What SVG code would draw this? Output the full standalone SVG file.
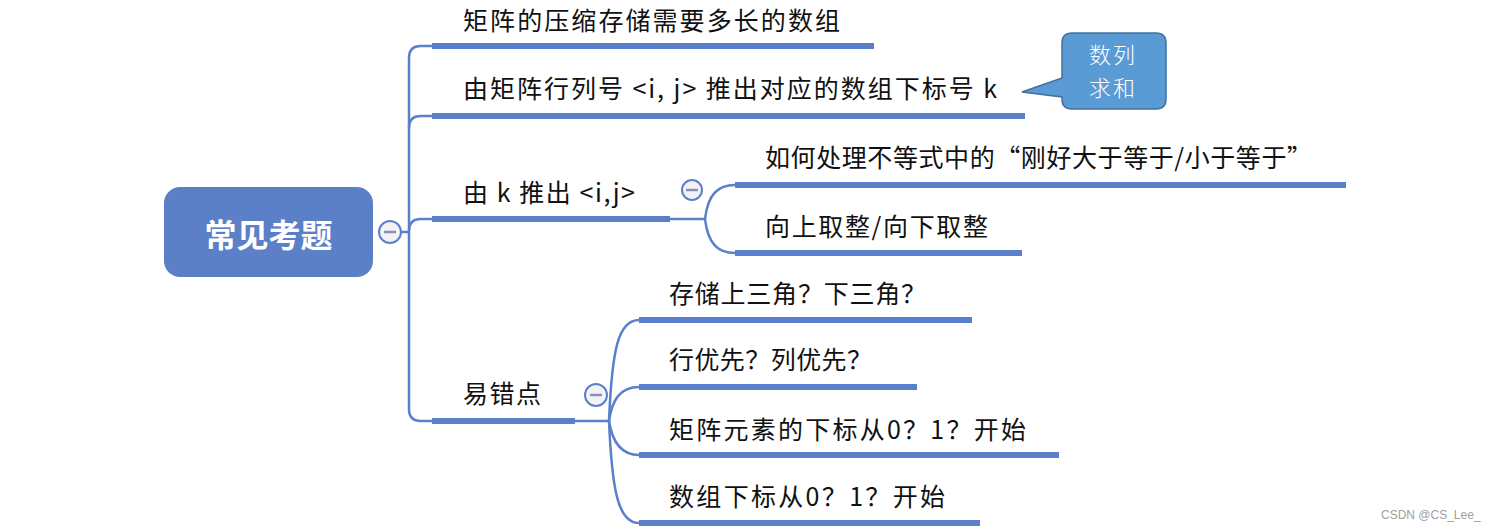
<svg xmlns="http://www.w3.org/2000/svg" width="1495" height="531" viewBox="0 0 1495 531">
<style>
.t{font-family:"Noto Sans CJK SC","Liberation Sans",sans-serif;font-size:25px;fill:#111;}
.thin{fill:none;stroke:#5b80cb;stroke-width:2.5;}
.bar{stroke:#5b80cb;stroke-width:6;}
.tog{fill:#f3f3f6;stroke:#5b80cb;stroke-width:2;}
.minus{stroke:#8b90b3;stroke-width:2.5;}
.ct{font-family:"Noto Sans CJK SC",sans-serif;font-size:22px;fill:#fff;font-weight:300;letter-spacing:2px;}
</style>
<rect width="1495" height="531" fill="#fff"/>
<g id="connectors">
<path class="thin" d="M401,232 H409"/>
<path class="thin" d="M432,46 H421 Q409,46 409,58 V409 Q409,421 421,421 H432"/>
<path class="thin" d="M432,116 H421 Q409,116 409,128"/>
<path class="thin" d="M432,219 H421 Q409,219 409,231"/>
<path class="thin" d="M670,219 H705"/>
<path class="thin" d="M705,219 C708,194 718,185 735,185"/>
<path class="thin" d="M705,219 C708,244 718,253 735,253"/>
<path class="thin" d="M575,421 H609"/>
<path class="thin" d="M609,421 C612,350 618,320 639,320"/>
<path class="thin" d="M609,421 C612,400 620,387 639,387"/>
<path class="thin" d="M609,421 C612,440 620,455 639,455"/>
<path class="thin" d="M609,421 C612,490 618,523 639,523"/>
</g>
<g id="root">
<rect x="164" y="187" width="209" height="90" rx="16" fill="#5b80c8"/>
<text x="268.5" y="247" text-anchor="middle" style="font-family:'Noto Sans CJK SC',sans-serif;font-size:32px;font-weight:bold;fill:#fff">常见考题</text>
<circle class="tog" cx="390" cy="232" r="11"/>
<line class="minus" x1="384" y1="232" x2="396" y2="232"/>
</g>
<g id="n1">
<line class="bar" x1="432" y1="46" x2="874" y2="46"/>
<text class="t" x="463" y="30" textLength="377" lengthAdjust="spacing">矩阵的压缩存储需要多长的数组</text>
</g>
<g id="n2">
<line class="bar" x1="432" y1="116" x2="1025" y2="116"/>
<text class="t" x="463" y="98" textLength="534" lengthAdjust="spacing">由矩阵行列号 &lt;i, j&gt; 推出对应的数组下标号 k</text>
</g>
<g id="callout">
<path d="M1072,33 H1156 Q1166,33 1166,43 V99 Q1166,109 1156,109 H1072 Q1062,109 1062,99 V97 L1022,92 L1062,78 V43 Q1062,33 1072,33 Z" fill="#5b9bd5" stroke="#41719c" stroke-width="1.5"/>
<text class="ct" x="1113" y="63" text-anchor="middle">数列</text>
<text class="ct" x="1113" y="96" text-anchor="middle">求和</text>
</g>
<g id="n3">
<line class="bar" x1="432" y1="219" x2="670" y2="219"/>
<text class="t" x="463" y="202" textLength="172" lengthAdjust="spacing">由 k 推出 &lt;i,j&gt;</text>
<circle class="tog" cx="692" cy="190" r="10"/>
<line class="minus" x1="686" y1="190" x2="698" y2="190"/>
</g>
<g id="n3a">
<line class="bar" x1="735" y1="185" x2="1346" y2="185"/>
<text class="t" x="765" y="167" textLength="547" lengthAdjust="spacing">如何处理不等式中的“刚好大于等于/小于等于”</text>
</g>
<g id="n3b">
<line class="bar" x1="735" y1="253" x2="1022" y2="253"/>
<text class="t" x="765" y="236" textLength="223" lengthAdjust="spacing">向上取整/向下取整</text>
</g>
<g id="n4">
<line class="bar" x1="432" y1="421" x2="575" y2="421"/>
<text class="t" x="463" y="403" textLength="78" lengthAdjust="spacing">易错点</text>
<circle class="tog" cx="596" cy="395" r="11"/>
<line class="minus" x1="590" y1="395" x2="602" y2="395"/>
</g>
<g id="n4a">
<line class="bar" x1="639" y1="320" x2="972" y2="320"/>
<text class="t" x="669" y="303" textLength="257" lengthAdjust="spacing">存储上三角？下三角？</text>
</g>
<g id="n4b">
<line class="bar" x1="639" y1="387" x2="917" y2="387"/>
<text class="t" x="669" y="369" textLength="203" lengthAdjust="spacing">行优先？列优先？</text>
</g>
<g id="n4c">
<line class="bar" x1="639" y1="455" x2="1059" y2="455"/>
<text class="t" x="669" y="439" textLength="357" lengthAdjust="spacing">矩阵元素的下标从0？1？开始</text>
</g>
<g id="n4d">
<line class="bar" x1="639" y1="523" x2="980" y2="523"/>
<text class="t" x="669" y="506" textLength="276" lengthAdjust="spacing">数组下标从0？1？开始</text>
</g>
<text x="1381" y="519" style="font-family:'Liberation Sans',sans-serif;font-size:12px;fill:#a0a0a0">CSDN @CS_Lee_</text>
</svg>
